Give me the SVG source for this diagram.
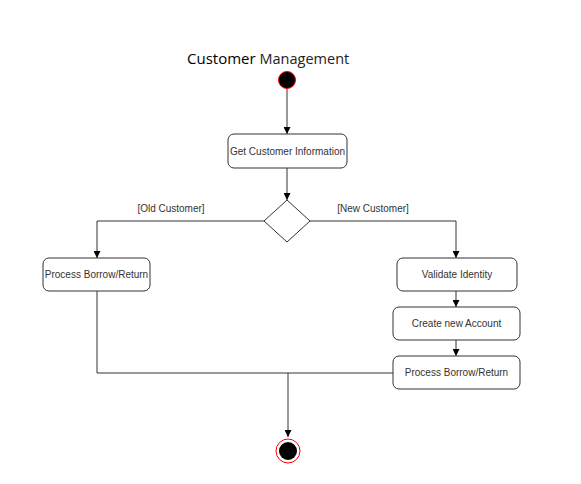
<svg xmlns="http://www.w3.org/2000/svg" width="581" height="484" viewBox="0 0 581 484">
<style>
.box{fill:#fff;stroke:#333;stroke-width:1}
.lbl{font-family:"Liberation Sans",Arial,sans-serif;font-size:10px;fill:#333;text-anchor:middle}
.edge{fill:none;stroke:#333;stroke-width:1}
</style>
<defs>
<marker id="arr" viewBox="0 0 10 10" refX="10" refY="5" markerWidth="7" markerHeight="7" orient="auto" markerUnits="userSpaceOnUse">
<path d="M0,0 L10,5 L0,10 z" fill="#000"/>
</marker>
</defs>
<rect width="581" height="484" fill="#fff"/>
<g id="title">
<text x="187" y="64" font-family="'Open Sans','Noto Sans',sans-serif" font-size="15" fill="#000">Customer <tspan fill="#222" font-size="14.5">Management</tspan></text>
</g>
<g id="connectors">
<path class="edge" d="M287,89 V134" marker-end="url(#arr)"/>
<path class="edge" d="M287,168 V200" marker-end="url(#arr)"/>
<path class="edge" d="M264,221 H97 V258" marker-end="url(#arr)"/>
<path class="edge" d="M310,221 H456 V258" marker-end="url(#arr)"/>
<path class="edge" d="M456,291 V307" marker-end="url(#arr)"/>
<path class="edge" d="M456,340 V356" marker-end="url(#arr)"/>
<path class="edge" d="M97,291 V373 H393"/>
<path class="edge" d="M288,373 V437" marker-end="url(#arr)"/>
<text class="lbl" x="171" y="212">[Old Customer]</text>
<text class="lbl" x="373" y="212">[New Customer]</text>
</g>
<g id="start">
<circle cx="287" cy="80" r="8.5" fill="#000" stroke="#ff0000" stroke-width="1"/>
</g>
<g id="getinfo">
<rect class="box" x="228" y="134" width="119" height="34" rx="6"/>
<text class="lbl" x="287.5" y="155">Get Customer Information</text>
</g>
<g id="decision">
<path class="box" d="M287,200 L310,221 L287,242 L264,221 Z"/>
</g>
<g id="process-old">
<rect class="box" x="43" y="258" width="107" height="33" rx="6"/>
<text class="lbl" x="96.5" y="278">Process Borrow/Return</text>
</g>
<g id="validate">
<rect class="box" x="397" y="258" width="120" height="33" rx="6"/>
<text class="lbl" x="457" y="278">Validate Identity</text>
</g>
<g id="create">
<rect class="box" x="393" y="307" width="127" height="33" rx="6"/>
<text class="lbl" x="456.5" y="327">Create new Account</text>
</g>
<g id="process-new">
<rect class="box" x="393" y="356" width="127" height="33" rx="6"/>
<text class="lbl" x="456.5" y="376">Process Borrow/Return</text>
</g>
<g id="end">
<circle cx="288" cy="451" r="12" fill="#fff" stroke="#ff0000" stroke-width="1"/>
<circle cx="288" cy="451" r="9" fill="#000"/>
</g>
</svg>
